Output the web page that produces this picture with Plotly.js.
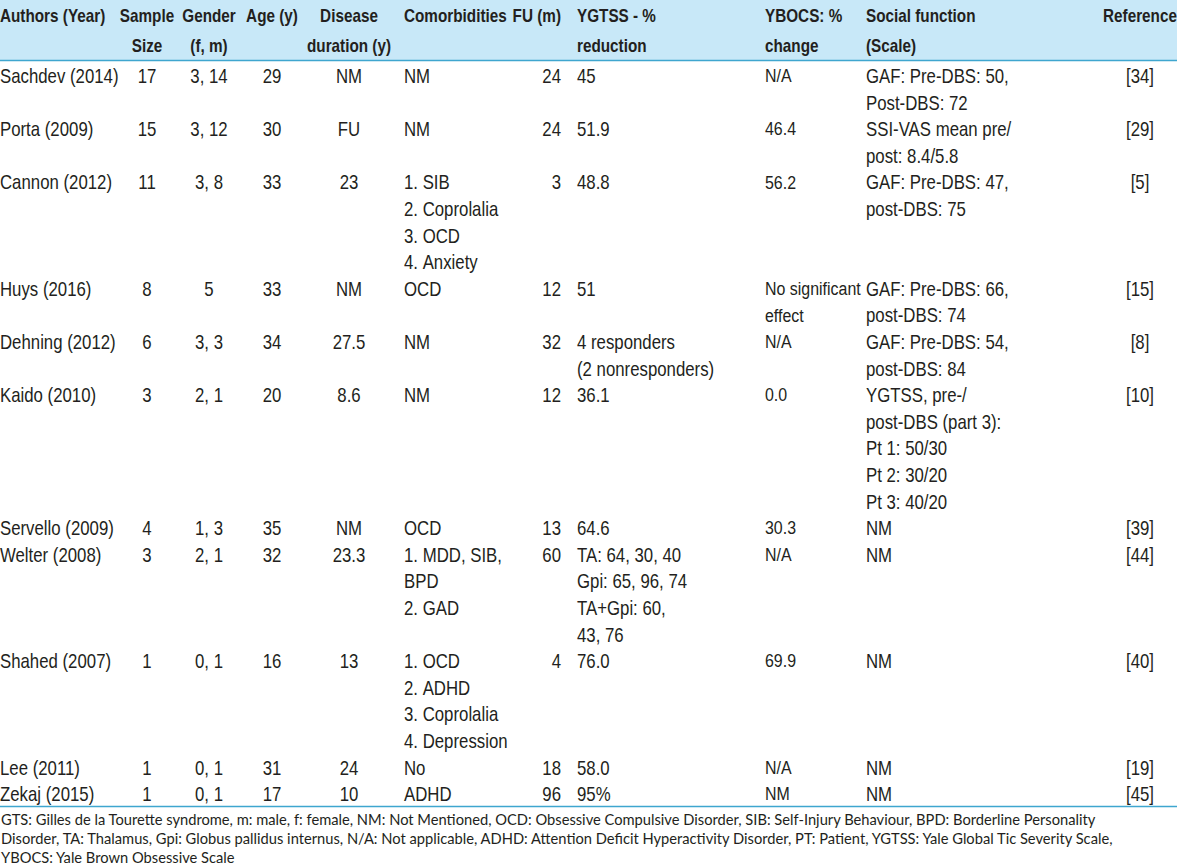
<!DOCTYPE html>
<html>
<head>
<meta charset="utf-8">
<script src="https://cdn.plot.ly/plotly-3.0.1.min.js"></script>
<style>
html, body { margin: 0; padding: 0; overflow: hidden; background: #ffffff; width: 1177px; height: 867px; }
#chart { position: absolute; left: -8px; top: 0; width: 1190px; height: 867px; }
/* condensed look of the original typeface */
#chart .cell-text { transform: scaleX(0.84); }
</style>
</head>
<body>
<div id="chart"></div>
<script>
// ---- Data (one entry per study; multi-line cells as arrays of lines) ----
const authors = ["Sachdev (2014)", "Porta (2009)", "Cannon (2012)", "Huys (2016)", "Dehning (2012)", "Kaido (2010)", "Servello (2009)", "Welter (2008)", "Shahed (2007)", "Lee (2011)", "Zekaj (2015)"];
const sampleSize = ["17", "15", "11", "8", "6", "3", "4", "3", "1", "1", "1"];
const gender = ["3, 14", "3, 12", "3, 8", "5", "3, 3", "2, 1", "1, 3", "2, 1", "0, 1", "0, 1", "0, 1"];
const age = ["29", "30", "33", "33", "34", "20", "35", "32", "16", "31", "17"];
const diseaseDuration = ["NM", "FU", "23", "NM", "27.5", "8.6", "NM", "23.3", "13", "24", "10"];
const comorbidities = [
  ["NM"], ["NM"], ["1. SIB", "2. Coprolalia", "3. OCD", "4. Anxiety"], ["OCD"], ["NM"], ["NM"], ["OCD"],
  ["1. MDD, SIB,", "BPD", "2. GAD"], ["1. OCD", "2. ADHD", "3. Coprolalia", "4. Depression"], ["No"], ["ADHD"]
];
const followUp = ["24", "24", "3", "12", "32", "12", "13", "60", "4", "18", "96"];
const ygtssReduction = [
  ["45"], ["51.9"], ["48.8"], ["51"], ["4 responders", "(2 nonresponders)"], ["36.1"], ["64.6"],
  ["TA: 64, 30, 40", "Gpi: 65, 96, 74", "TA+Gpi: 60,", "43, 76"], ["76.0"], ["58.0"], ["95%"]
];
const ybocsChange = [["N/A"], ["46.4"], ["56.2"], ["No significant", "effect"], ["N/A"], ["0.0"], ["30.3"], ["N/A"], ["69.9"], ["N/A"], ["NM"]];
const socialFunction = [
  ["GAF: Pre-DBS: 50,", "Post-DBS: 72"], ["SSI-VAS mean pre/", "post: 8.4/5.8"], ["GAF: Pre-DBS: 47,", "post-DBS: 75"],
  ["GAF: Pre-DBS: 66,", "post-DBS: 74"], ["GAF: Pre-DBS: 54,", "post-DBS: 84"],
  ["YGTSS, pre-/", "post-DBS (part 3):", "Pt 1: 50/30", "Pt 2: 30/20", "Pt 3: 40/20"],
  ["NM"], ["NM"], ["NM"], ["NM"], ["NM"]
];
const references = ["[34]", "[29]", "[5]", "[15]", "[8]", "[10]", "[39]", "[44]", "[40]", "[19]", "[45]"];

const headerLines = [
  ["Authors (Year)", ""], ["Sample", "Size"], ["Gender", "(f, m)"], ["Age (y)", ""], ["Disease", "duration (y)"],
  ["Comorbidities", ""], ["FU (m)", ""], ["YGTSS - %", "reduction"], ["YBOCS: %", "change"],
  ["Social function", "(Scale)"], ["Reference", ""]
];
const footnoteLines = [
  "GTS: Gilles de la Tourette syndrome, m: male, f: female, NM: Not Mentioned, OCD: Obsessive Compulsive Disorder, SIB: Self-Injury Behaviour, BPD: Borderline Personality",
  "Disorder, TA: Thalamus, Gpi: Globus pallidus internus, N/A: Not applicable, ADHD: Attention Deficit Hyperactivity Disorder, PT: Patient, YGTSS: Yale Global Tic Severity Scale,",
  "YBOCS: Yale Brown Obsessive Scale"
];

// ---- Build table columns (one table row per printed text line) ----
const nb = s => String(s).replace(/ /g, '\u00a0');   // keep each printed line on one line
const columnsData = [authors, sampleSize, gender, age, diseaseDuration, comorbidities, followUp, ygtssReduction, ybocsChange, socialFunction, references];
const asLines = v => Array.isArray(v) ? v : [v];
const cols = columnsData.map(() => []);
for (let r = 0; r < authors.length; r++) {
  const cellLines = columnsData.map(col => asLines(col[r]));
  const n = Math.max.apply(null, cellLines.map(l => l.length));
  for (let k = 0; k < n; k++) {
    cellLines.forEach((lines, c) => cols[c].push(lines[k] !== undefined ? nb(lines[k]) : ""));
  }
}
const headerValues = headerLines.map(h => h.map(nb));

const colWidths = [126, 58, 66, 60, 94, 114, 59, 188, 101, 254, 56];
const headerAligns = ['left', 'center', 'center', 'center', 'center', 'left', 'right', 'left', 'left', 'left', 'center'];
const cellAligns = ['left', 'center', 'center', 'center', 'center', 'left', 'right', 'left', 'left', 'left', 'center'];
const cellSizes = [20, 20, 20, 20, 20, 20, 20, 20, 19, 20, 20];
const textColor = '#231f20';
const fontFam = '"Liberation Sans", Arial, sans-serif';

// footnote size fitted to the printed line length
const footFont = 'Lato';
const ctx = document.createElement('canvas').getContext('2d');
ctx.font = '100px ' + footFont;
const fs1 = 100 * 1108 / ctx.measureText(footnoteLines[0]).width;
const fs2 = 100 * 1105 / ctx.measureText(footnoteLines[1]).width;
const footSize = Math.max(11, Math.min(17, (fs1 + fs2) / 2));

const W = 1190, H = 867;
const tableW = colWidths.reduce((a, b) => a + b, 0);
const trace = {
  type: 'table',
  domain: {x: [0, tableW / W], y: [0, 1]},
  columnwidth: colWidths,
  header: {
    values: headerValues,
    align: headerAligns,
    height: 30,
    fill: {color: '#c8e8f8'},
    line: {width: 24, color: 'rgba(0,0,0,0)'},
    font: {family: fontFam, size: 18.2, color: textColor, weight: 'bold'}
  },
  cells: {
    values: cols,
    align: cellAligns,
    height: 26.6,
    fill: {color: 'rgba(255,255,255,0)'},
    line: {width: 24, color: 'rgba(0,0,0,0)'},
    font: {family: fontFam, size: cellSizes, color: textColor}
  }
};

const blue = '#3fa6cf';
const x0 = 8 / W;
const layout = {
  width: W, height: H,
  margin: {l: 0, r: 0, t: 0, b: 0, pad: 0},
  paper_bgcolor: '#ffffff',
  showlegend: false,
  shapes: [
    {type: 'rect', xref: 'paper', yref: 'paper', x0: tableW / W, x1: 1, y0: 1 - 60 / H, y1: 1, line: {width: 0}, fillcolor: '#c8e8f8', layer: 'below'},
    {type: 'line', xref: 'paper', yref: 'paper', x0: x0, x1: 1, y0: 1 - 60.5 / H, y1: 1 - 60.5 / H, line: {color: blue, width: 1.6}},
    {type: 'line', xref: 'paper', yref: 'paper', x0: x0, x1: 1, y0: 1 - 806.5 / H, y1: 1 - 806.5 / H, line: {color: blue, width: 1.6}}
  ],
  annotations: [{
    xref: 'paper', yref: 'paper', x: x0, y: 1 - 809 / H, xanchor: 'left', yanchor: 'top',
    align: 'left', showarrow: false, borderpad: 0,
    text: footnoteLines.join('<br>'),
    font: {family: footFont + ', "Open Sans", sans-serif', size: footSize, color: textColor}
  }]
};

Plotly.newPlot('chart', [trace], layout, {displayModeBar: false, staticPlot: true});
</script>
</body>
</html>
